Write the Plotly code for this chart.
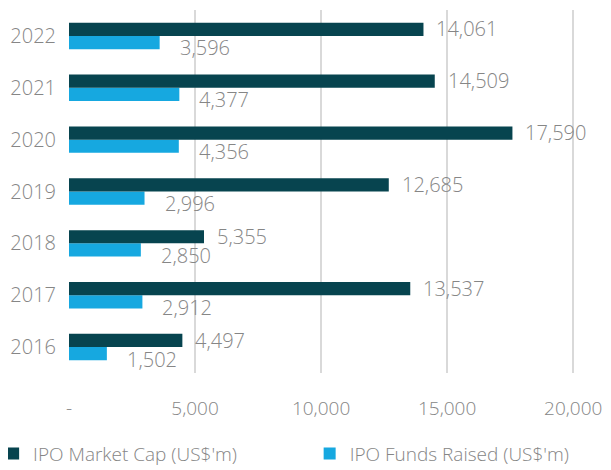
import plotly.graph_objects as go

years = [2016, 2017, 2018, 2019, 2020, 2021, 2022]
market_cap = [4497, 13537, 5355, 12685, 17590, 14509, 14061]
funds_raised = [1502, 2912, 2850, 2996, 4356, 4377, 3596]
x_tickvals = [0, 5000, 10000, 15000, 20000]
x_ticktext = ["-", "5,000", "10,000", "15,000", "20,000"]

DARK = "#07444F"
LIGHT = "#16A8E0"
GREY = "#868686"
FONT = "Open Sans"

fig = go.Figure()
fig.add_trace(go.Bar(y=years, x=funds_raised, orientation="h", name="IPO Funds Raised (US$'m)",
                     marker=dict(color=LIGHT, line=dict(width=0)), legend="legend2"))
fig.add_trace(go.Bar(y=years, x=market_cap, orientation="h", name="IPO Market Cap (US$'m)",
                     marker=dict(color=DARK, line=dict(width=0)), legend="legend"))

ann = []
for y, v in zip(years, market_cap):
    ann.append(dict(x=v, y=y, text=f"{v:,}", xanchor="left", yanchor="middle", xshift=11, yshift=7,
                    showarrow=False, font=dict(family=FONT, size=20, color=GREY, weight=300)))
for y, v in zip(years, funds_raised):
    ann.append(dict(x=v, y=y, text=f"{v:,}", xanchor="left", yanchor="middle", xshift=18, yshift=-12,
                    showarrow=False, font=dict(family=FONT, size=20, color=GREY, weight=300)))

legend_font = dict(family=FONT, size=19, color=GREY, weight=300)

# the page body adds an 8px offset; the figure is sized/margined to compensate
fig.update_layout(
    width=603, height=462,
    margin=dict(l=61, r=0, t=2, b=97, autoexpand=False),
    paper_bgcolor="white", plot_bgcolor="white",
    barmode="group", bargap=0.49, bargroupgap=0,
    font=dict(family=FONT, color=GREY, size=19, weight=300),
    annotations=ann,
    xaxis=dict(range=[0, 21500], tickvals=x_tickvals, ticktext=x_ticktext, showgrid=True,
               gridcolor="#D9D9D9", gridwidth=2, zeroline=False, showline=False, automargin=False,
               ticks="outside", ticklen=18, tickcolor="rgba(0,0,0,0)",
               tickfont=dict(family=FONT, size=19, color=GREY, weight=300)),
    yaxis=dict(tickvals=years, ticktext=[str(y) for y in years], range=[2015.5, 2022.5],
               showgrid=False, showline=False, zeroline=False, ticks="outside", ticklen=8,
               tickcolor="rgba(0,0,0,0)", automargin=False,
               tickfont=dict(family=FONT, size=20, color=GREY, weight=300)),
    legend=dict(orientation="h", x=-0.14, xanchor="left", y=-0.17, yanchor="top",
                font=legend_font, itemwidth=30, bgcolor="rgba(0,0,0,0)"),
    legend2=dict(orientation="h", x=0.444, xanchor="left", y=-0.17, yanchor="top",
                 font=legend_font, itemwidth=30, bgcolor="rgba(0,0,0,0)"),
    showlegend=True,
)
fig.write_html("out.html")
